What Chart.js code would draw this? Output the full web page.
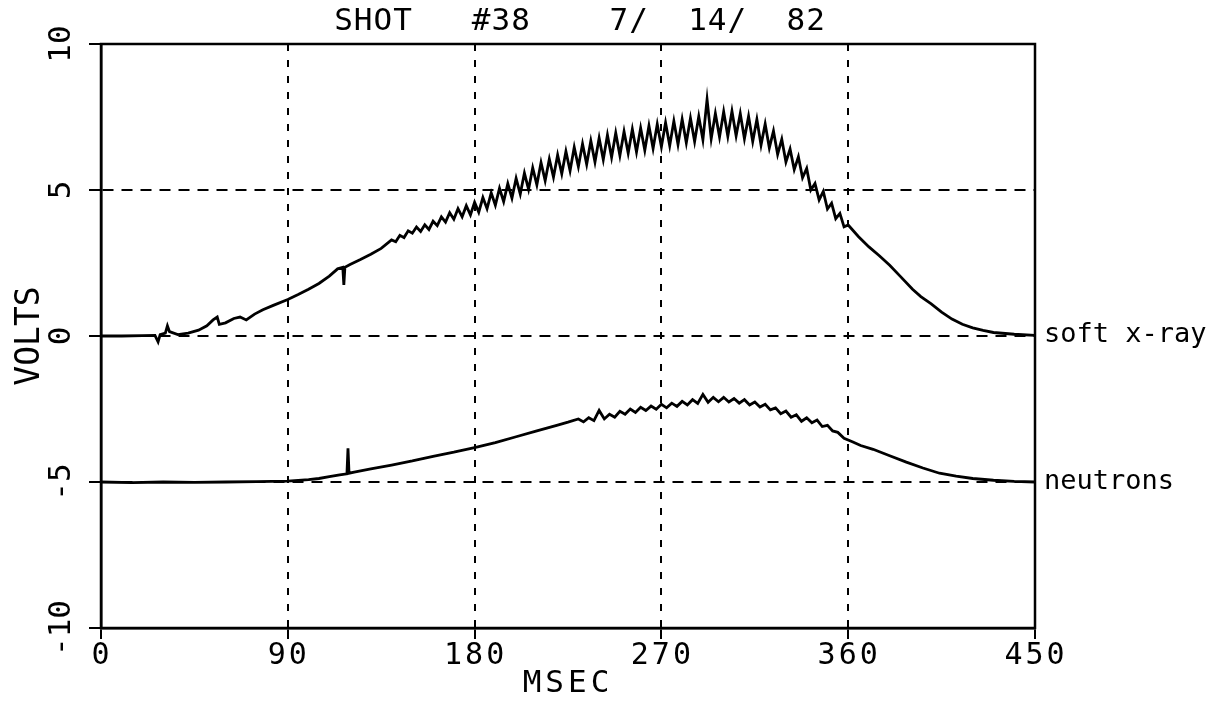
<!DOCTYPE html>
<html>
<head>
<meta charset="utf-8">
<script src="https://cdn.jsdelivr.net/npm/chart.js@4.4.1/dist/chart.umd.min.js"></script>
<style>
  html, body { margin: 0; padding: 0; background: #fff; }
  #wrap { width: 1217px; height: 701px; position: relative; }
</style>
</head>
<body>
<div id="wrap"><canvas id="shotChart"></canvas></div>
<script>
// Shot #38, 7/14/82 - soft x-ray and neutron signals (volts vs msec)
const titleText = 'SHOT   #38    7/  14/  82';
const xTicks = [0, 90, 180, 270, 360, 450];
const yTicks = [10, 5, 0, -5, -10];
const yTickLabels = ['10', '5', '0', '-5', '-10'];

const xrayTime = [
  0, 10, 20, 26, 27.5, 28.5, 31, 32, 33, 37, 42, 47, 51, 54, 56, 57, 60, 64, 67, 70,
  74, 78, 83, 90, 95, 100, 105, 110, 114, 116.5, 117, 117.5, 120, 125, 130, 135,
  140, 142, 144, 146, 148, 150, 152, 154, 156, 158,
  160, 162, 164, 166, 168, 170, 172, 174, 176, 178,
  180, 182, 184, 186, 188, 190, 192, 194, 196, 198,
  200, 202, 204, 206, 208, 210, 212, 214, 216, 218,
  220, 222, 224, 226, 228, 230, 232, 234, 236, 238,
  240, 242, 244, 246, 248, 250, 252, 254, 256, 258,
  260, 262, 264, 266, 268, 270, 272, 274, 276, 278,
  280, 282, 284, 286, 288, 290, 292, 294, 296, 298,
  300, 302, 304, 306, 308, 310, 312, 314, 316, 318,
  320, 322, 324, 326, 328, 330, 332, 334, 336, 338,
  340, 342, 344, 346, 348, 350, 352, 354, 356, 358,
  360, 365, 370, 375, 380, 385, 391, 395, 400, 405, 410, 415,
  420, 425, 430, 440, 450
];
const xrayVolts = [
  0.0, 0.0, 0.01, 0.02, -0.2, 0.05, 0.1, 0.35, 0.15, 0.05, 0.1, 0.2, 0.35, 0.55, 0.65, 0.4, 0.45, 0.6, 0.65, 0.55,
  0.75, 0.9, 1.05, 1.25, 1.42, 1.6, 1.8, 2.05, 2.3, 2.35, 1.75, 2.35, 2.45, 2.62, 2.8, 3.0,
  3.29, 3.23, 3.45, 3.37, 3.60, 3.52, 3.73, 3.58, 3.81, 3.65,
  3.93, 3.78, 4.08, 3.90, 4.22, 4.00, 4.36, 4.08, 4.46, 4.15,
  4.58, 4.24, 4.74, 4.36, 4.90, 4.48, 5.06, 4.60, 5.22, 4.72,
  5.40, 4.86, 5.58, 5.02, 5.76, 5.18, 5.94, 5.32, 6.06, 5.44,
  6.20, 5.56, 6.32, 5.66, 6.46, 5.80, 6.58, 5.88, 6.68, 5.96,
  6.78, 6.04, 6.88, 6.12, 6.95, 6.18, 7.00, 6.26, 7.08, 6.30,
  7.12, 6.36, 7.20, 6.42, 7.25, 6.48, 7.30, 6.52, 7.36, 6.56,
  7.42, 6.62, 7.46, 6.66, 7.52, 6.72, 8.10, 6.76, 7.62, 6.82,
  7.68, 6.84, 7.70, 6.86, 7.62, 6.76, 7.52, 6.66, 7.42, 6.54,
  7.26, 6.44, 7.02, 6.22, 6.74, 5.96, 6.40, 5.70, 6.14, 5.42,
  5.74, 5.00, 5.22, 4.66, 4.95, 4.35, 4.55, 4.02, 4.20, 3.74,
  3.80, 3.4, 3.05, 2.75, 2.42, 2.05, 1.6, 1.35, 1.1, 0.82, 0.58, 0.4,
  0.28, 0.19, 0.12, 0.06, 0.02
];

const neutronTime = [
  0, 15, 30, 45, 60, 75, 90, 100, 105, 110, 115, 118.5, 119, 119.5, 122, 130, 140, 150,
  160, 170, 180, 190, 200, 210, 220, 225,
  230, 232.5, 235, 237.5, 240, 242.5, 245, 247.5, 250, 252.5, 255, 257.5, 260, 262.5,
  265, 267.5, 270, 272.5, 275, 277.5, 280, 282.5, 285, 287.5, 290, 292.5, 295, 297.5,
  300, 302.5, 305, 307.5, 310, 312.5, 315, 317.5, 320, 322.5, 325, 327.5, 330, 332.5,
  335, 337.5, 340, 342.5, 345, 347.5, 350,
  352.5, 355, 358, 362, 366, 372, 380, 388, 396, 404, 412, 420, 430, 440, 450
];
const neutronVolts = [
  -5.0, -5.02, -5.0, -5.01, -5.0, -4.99, -4.97, -4.92, -4.88, -4.82, -4.76, -4.72, -3.85, -4.70, -4.66, -4.55, -4.42, -4.28,
  -4.12, -3.98, -3.82, -3.65, -3.45, -3.25, -3.05, -2.95,
  -2.84, -2.94, -2.80, -2.90, -2.55, -2.84, -2.68, -2.78, -2.58, -2.68, -2.50, -2.62, -2.44, -2.55,
  -2.40, -2.51, -2.34, -2.46, -2.30, -2.41, -2.24, -2.36, -2.18, -2.31, -2.00, -2.27, -2.10, -2.25,
  -2.10, -2.26, -2.14, -2.30, -2.18, -2.36, -2.26, -2.43, -2.34, -2.53, -2.46, -2.66, -2.57, -2.78,
  -2.70, -2.92, -2.80, -2.97, -2.88, -3.10, -3.06,
  -3.25, -3.30, -3.50, -3.62, -3.75, -3.88, -4.10, -4.32, -4.52, -4.70, -4.80, -4.88, -4.94, -4.98, -5.0
];

const toPoints = (xs, ys) => xs.map((x, i) => ({ x: x, y: ys[i] }));
const FONT = '"DejaVu Sans Mono", "Liberation Mono", monospace';

// hide the grid line on the frame edges, the box is drawn solid
const innerGrid = (edges) => (ctx) =>
  (ctx.tick && edges.includes(ctx.tick.value)) ? 'rgba(0,0,0,0)' : '#000';

// frame + all the plotter style text
const plotterText = {
  id: 'plotterText',
  afterDraw(chart) {
    const { ctx, chartArea: a, scales } = chart;
    const xs = scales.x, ys = scales.y;
    ctx.save();
    ctx.strokeStyle = '#000';
    ctx.lineWidth = 2.5;
    ctx.strokeRect(a.left, a.top, a.right - a.left, a.bottom - a.top);

    ctx.fillStyle = '#000';
    ctx.textAlign = 'center';
    ctx.textBaseline = 'middle';

    // title
    ctx.font = '31px ' + FONT;
    ctx.letterSpacing = '1px';
    ctx.fillText(titleText, 580, 22);

    // x tick labels
    ctx.font = '30px ' + FONT;
    ctx.letterSpacing = '3px';
    xTicks.forEach(v => ctx.fillText(String(v), xs.getPixelForValue(v) + 1, 656));
    ctx.font = '31px ' + FONT;
    ctx.letterSpacing = '4px';
    ctx.fillText('MSEC', (a.left + a.right) / 2, 684);
    ctx.letterSpacing = '0px';

    // y tick labels, rotated like the plotter wrote them
    ctx.font = '31px ' + FONT;
    yTicks.forEach((v, i) => {
      ctx.save();
      ctx.translate(62, ys.getPixelForValue(v));
      ctx.rotate(-Math.PI / 2);
      ctx.fillText(yTickLabels[i], 0, 0);
      ctx.restore();
    });
    ctx.save();
    ctx.font = '33px ' + FONT;
    ctx.translate(30, (a.top + a.bottom) / 2);
    ctx.rotate(-Math.PI / 2);
    ctx.fillText('VOLTS', 0, 0);
    ctx.restore();

    // curve names at the right end of each trace
    ctx.font = '27px ' + FONT;
    ctx.textAlign = 'left';
    chart.data.datasets.forEach(ds => {
      const last = ds.data[ds.data.length - 1];
      ctx.fillText(ds.label, a.right + 9, ys.getPixelForValue(last.y));
    });
    ctx.restore();
  }
};

new Chart(document.getElementById('shotChart'), {
  type: 'line',
  data: {
    datasets: [{
      label: 'soft x-ray',
      data: toPoints(xrayTime, xrayVolts),
      borderColor: '#000',
      borderWidth: 2.8,
      pointRadius: 0,
      tension: 0
    }, {
      label: 'neutrons',
      data: toPoints(neutronTime, neutronVolts),
      borderColor: '#000',
      borderWidth: 2.8,
      pointRadius: 0,
      tension: 0
    }]
  },
  options: {
    responsive: true,
    maintainAspectRatio: false,
    animation: false,
    layout: {
      padding: { top: 44, right: 182, bottom: 0, left: 0 }
    },
    plugins: {
      legend: { display: false },
      tooltip: { enabled: false }
    },
    scales: {
      x: {
        type: 'linear',
        min: 0,
        max: 450,
        afterFit: s => { s.height = 73; },
        afterBuildTicks: s => { s.ticks = xTicks.map(v => ({ value: v })); },
        ticks: { display: false },
        grid: {
          color: innerGrid([0, 450]),
          lineWidth: 2,
          tickColor: '#000',
          tickLength: 11,
          tickWidth: 2
        },
        border: { display: true, color: '#000', width: 2.5, dash: [7, 9] }
      },
      y: {
        type: 'linear',
        min: -10,
        max: 10,
        afterFit: s => { s.width = 101; },
        afterBuildTicks: s => { s.ticks = yTicks.map(v => ({ value: v })); },
        ticks: { display: false },
        grid: {
          color: innerGrid([10, -10]),
          lineWidth: 2,
          tickColor: '#000',
          tickLength: 12,
          tickWidth: 2
        },
        border: { display: true, color: '#000', width: 2.5, dash: [11, 8] }
      }
    }
  },
  plugins: [plotterText]
});
</script>
</body>
</html>
